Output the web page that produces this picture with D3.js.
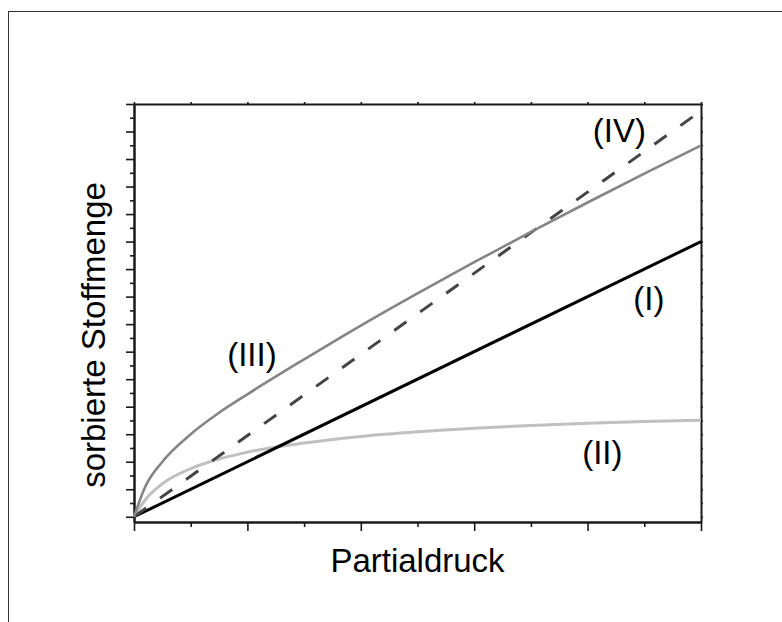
<!DOCTYPE html>
<html>
<head>
<meta charset="utf-8">
<script src="https://cdn.jsdelivr.net/npm/d3@7"></script>
<style>
  html, body { margin: 0; padding: 0; background: #fff; }
  svg { display: block; }
  text { font-family: "Liberation Sans", Arial, Helvetica, sans-serif; fill: #000; }
</style>
</head>
<body>
<svg id="chart" width="782" height="622"></svg>
<script>
// Sorption isotherms: amount sorbed vs. partial pressure (arbitrary units)
const pressure = [0, 0.1, 0.25, 0.5, 0.75, 1.0, 1.5, 2.0, 2.5, 3.0, 3.5, 4.0, 4.5, 5.0];

// (I) linear (Henry)
const henryX = [0, 5];
const henryY = [0, 10];
// (II) Langmuir type, saturating
const langmuirY = [0, 0.62, 1.2, 1.75, 2.1, 2.35, 2.68, 2.92, 3.09, 3.22, 3.32, 3.40, 3.46, 3.51];
// (III) Freundlich type, concave
const freundlichY = [0, 1.1, 2.0, 3.0, 3.78, 4.45, 5.72, 6.95, 8.12, 9.25, 10.35, 11.42, 12.47, 13.49];
// (IV) linear reference, dashed
const dashedX = [0, 5];
const dashedY = [0, 14.75];

const curveLabels = ["(I)", "(II)", "(III)", "(IV)"];
const labelAt = [[4.54, 7.95], [4.13, 2.35], [1.04, 5.88], [4.28, 14.02]];

const xMajor = [0, 1, 2, 3, 4, 5];
const xMinor = [0.5, 1.5, 2.5, 3.5, 4.5];
const yMajor = d3.range(0, 16, 1);
const yMinor = d3.range(0.5, 15, 1);

const svg = d3.select("#chart");

// outer frame
svg.append("rect")
  .attr("x", 8.5).attr("y", 11.5)
  .attr("width", 900).attr("height", 900)
  .attr("fill", "none").attr("stroke", "#333").attr("stroke-width", 1);

const L = 134, R = 701, T = 104, B = 522;
const x = d3.scaleLinear().domain([0, 5]).range([L, R]);
const y = d3.scaleLinear().domain([-0.19, 15]).range([B, T]);

const axisColor = "#1a1a1a";
function styleAxis(g) {
  g.selectAll("path.domain").attr("stroke", axisColor).attr("stroke-width", 2);
  g.selectAll(".tick line").attr("stroke", axisColor).attr("stroke-width", 1.6);
  g.selectAll(".tick text").remove();
}

// bottom axis: major + minor ticks
svg.append("g").attr("transform", `translate(0,${B})`)
  .call(d3.axisBottom(x).tickValues(xMinor).tickSize(5).tickSizeOuter(0).tickFormat(""))
  .call(styleAxis);
svg.append("g").attr("transform", `translate(0,${B})`)
  .call(d3.axisBottom(x).tickValues(xMajor).tickSize(9).tickSizeOuter(0).tickFormat(""))
  .call(styleAxis);

// left axis
svg.append("g").attr("transform", `translate(${L},0)`)
  .call(d3.axisLeft(y).tickValues(yMinor).tickSize(4).tickSizeOuter(0).tickFormat(""))
  .call(styleAxis);
svg.append("g").attr("transform", `translate(${L},0)`)
  .call(d3.axisLeft(y).tickValues(yMajor).tickSize(8).tickSizeOuter(0).tickFormat(""))
  .call(styleAxis);

// top axis (small ticks)
svg.append("g").attr("transform", `translate(0,${T})`)
  .call(d3.axisTop(x).tickValues(xMajor.concat(xMinor)).tickSize(2).tickSizeOuter(0).tickFormat(""))
  .call(styleAxis);

// right axis (small ticks)
svg.append("g").attr("transform", `translate(${R},0)`)
  .call(d3.axisRight(y).tickValues(yMajor.concat(yMinor)).tickSize(2).tickSizeOuter(0).tickFormat(""))
  .call(styleAxis);

const line = d3.line().x(d => x(d[0])).y(d => y(d[1])).curve(d3.curveMonotoneX);

const plot = svg.append("g");

plot.append("path")
  .datum(pressure.map((p, i) => [p, langmuirY[i]]))
  .attr("d", line).attr("fill", "none")
  .attr("stroke", "#c0c0c0").attr("stroke-width", 3);

plot.append("path")
  .datum(henryX.map((p, i) => [p, henryY[i]]))
  .attr("d", line).attr("fill", "none")
  .attr("stroke", "#000").attr("stroke-width", 3);

plot.append("path")
  .datum(dashedX.map((p, i) => [p, dashedY[i]]))
  .attr("d", line).attr("fill", "none")
  .attr("stroke", "#444").attr("stroke-width", 3)
  .attr("stroke-dasharray", "15,17");

plot.append("path")
  .datum(pressure.map((p, i) => [p, freundlichY[i]]))
  .attr("d", line).attr("fill", "none")
  .attr("stroke", "#858585").attr("stroke-width", 2.6);

// curve labels
svg.selectAll("text.curve")
  .data(curveLabels)
  .join("text")
  .attr("class", "curve")
  .attr("x", (d, i) => x(labelAt[i][0]))
  .attr("y", (d, i) => y(labelAt[i][1]))
  .attr("text-anchor", "middle")
  .attr("dominant-baseline", "central")
  .attr("font-size", 33)
  .text(d => d);

// axis titles
svg.append("text")
  .attr("x", (L + R) / 2).attr("y", 572)
  .attr("text-anchor", "middle")
  .attr("font-size", 33)
  .text("Partialdruck");

svg.append("text")
  .attr("transform", `translate(105,${(T + B) / 2 + 22}) rotate(-90)`)
  .attr("text-anchor", "middle")
  .attr("font-size", 33)
  .text("sorbierte Stoffmenge");
</script>
</body>
</html>
